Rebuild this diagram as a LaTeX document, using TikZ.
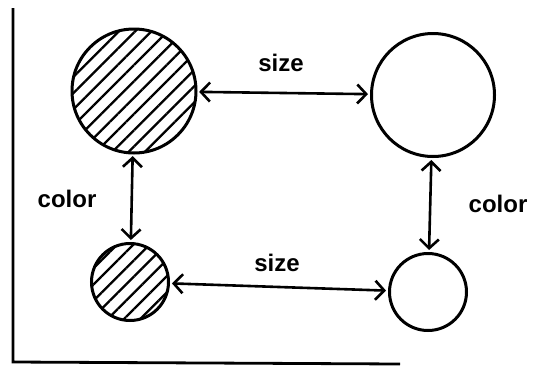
\documentclass[tikz,border=0pt]{standalone}
\usepackage{fontspec}
\setmainfont{Liberation Sans}
\usetikzlibrary{arrows.meta,patterns.meta}
\begin{document}
\begin{tikzpicture}[x=1pt,y=-1pt,
  ball/.style={circle,draw,line width=3pt,inner sep=0pt},
  hatch/.style={pattern={Lines[angle=45,distance=11.5pt,line width=2.3pt]}},
  link/.style={line width=2.6pt,{Straight Barb[length=9pt,width=19pt,line width=2.6pt]}-{Straight Barb[length=9pt,width=19pt,line width=2.6pt]},shorten <=2pt,shorten >=2pt},
  lab/.style={font=\bfseries\fontsize{24}{28}\selectfont,inner sep=0pt}]
\useasboundingbox (0,0) rectangle (543,378);
\coordinate (tl) at (13,8);
\coordinate (bl) at (13,362);
\coordinate (br) at (400,364);
\draw[line width=2.8pt] (tl) -- (bl) -- (br);
\node[ball,hatch,minimum size=124pt] (A) at (134,91) {};
\node[ball,minimum size=123pt] (B) at (433,95) {};
\node[ball,hatch,minimum size=77pt] (C) at (130,282) {};
\node[ball,minimum size=77pt] (D) at (428,292) {};
\draw[link] (A) -- (B);
\draw[link] (C) -- (D);
\draw[link] (A) -- (C);
\draw[link] (B) -- (D);
\node[lab] (s1) at (281,63) {size};
\node[lab] (s2) at (277,263) {size};
\node[lab] (c1) at (67,199) {color};
\node[lab] (c2) at (498,204) {color};
\end{tikzpicture}
\end{document}
